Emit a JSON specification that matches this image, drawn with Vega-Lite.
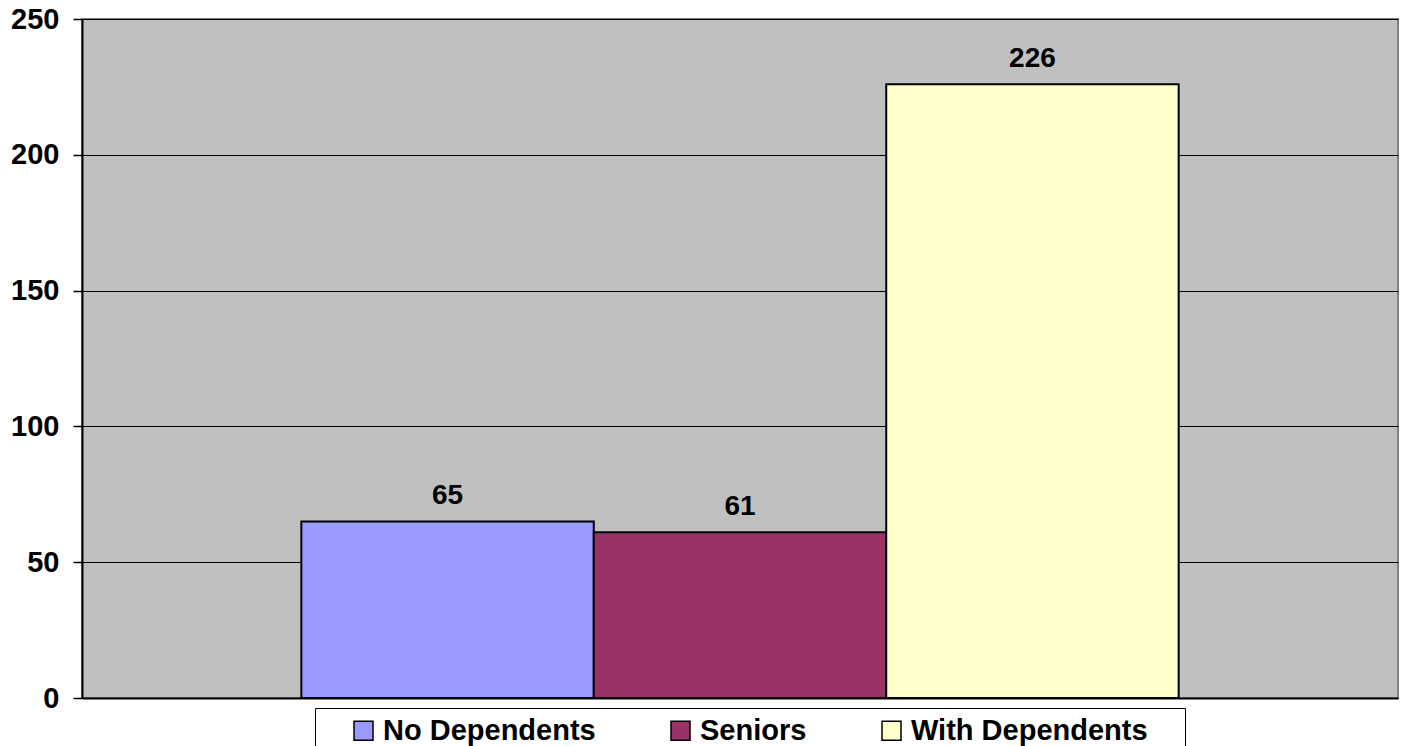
{
  "$schema": "https://vega.github.io/schema/vega-lite/v6.json",
  "autosize": {"type": "none"},
  "width": 1316,
  "height": 679,
  "padding": {"left": 82, "top": 19, "right": 5, "bottom": 48},
  "background": "white",
  "config": {
    "view": {"fill": "#C0C0C0", "stroke": "#808080", "strokeWidth": 2},
    "font": "Liberation Sans"
  },
  "data": {
    "values": [
      {"series": "No Dependents", "value": 65},
      {"series": "Seniors", "value": 61},
      {"series": "With Dependents", "value": 226}
    ]
  },
  "encoding": {
    "x": {
      "field": "series",
      "type": "nominal",
      "sort": null,
      "scale": {"paddingInner": 0, "paddingOuter": 0.75},
      "axis": {"labels": false, "ticks": false, "title": null, "domainColor": "#000000", "domainWidth": 2, "grid": false}
    },
    "y": {
      "field": "value",
      "type": "quantitative",
      "scale": {"domain": [0, 250], "nice": false},
      "axis": {
        "values": [0, 50, 100, 150, 200, 250],
        "title": null,
        "grid": true,
        "gridColor": "#000000",
        "gridWidth": 1,
        "gridOpacity": 1,
        "domainColor": "#000000",
        "domainWidth": 2,
        "tickColor": "#000000",
        "tickSize": 9,
        "tickWidth": 1.5,
        "labelPadding": 14,
        "labelFont": "Liberation Sans",
        "labelFontSize": 29,
        "labelFontWeight": "bold",
        "labelColor": "#000000"
      }
    }
  },
  "layer": [
    {
      "mark": {"type": "bar", "stroke": "#000000", "strokeWidth": 2},
      "encoding": {
        "color": {
          "field": "series",
          "type": "nominal",
          "sort": null,
          "scale": {"domain": ["No Dependents", "Seniors", "With Dependents"], "range": ["#9999FF", "#993366", "#FFFFCC"]},
          "legend": {
            "title": "\u00a0",
            "titleOrient": "right",
            "titlePadding": 29,
            "titleFontSize": 10,
            "orient": "none",
            "direction": "horizontal",
            "legendX": 233,
            "legendY": 689,
            "padding": 8,
            "symbolOffset": 26,
            "strokeColor": "#000000",
            "fillColor": "#FFFFFF",
            "symbolType": "square",
            "symbolSize": 361,
            "symbolStrokeColor": "#000000",
            "symbolStrokeWidth": 1.5,
            "symbolOpacity": 1,
            "labelFont": "Liberation Sans",
            "labelFontSize": 29,
            "labelFontWeight": "bold",
            "labelColor": "#000000",
            "labelOffset": 5,
            "columnPadding": 44,
            "labelLimit": 500
          }
        }
      }
    },
    {
      "mark": {"type": "text", "dy": -25, "font": "Liberation Sans", "fontSize": 28, "fontWeight": "bold", "color": "#000000"},
      "encoding": {
        "text": {"field": "value", "type": "quantitative"}
      }
    }
  ]
}
